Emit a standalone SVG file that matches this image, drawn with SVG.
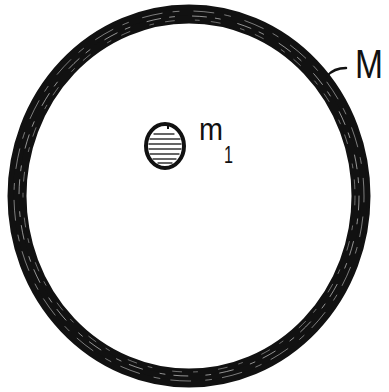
<svg xmlns="http://www.w3.org/2000/svg" width="389" height="392" viewBox="0 0 389 392">
<style>
.ink{fill:none;stroke:#111;stroke-linecap:round;stroke-linejoin:round}
.hl{fill:none;stroke:#fff;stroke-width:1;stroke-linecap:round}
.lbl{font-family:"Liberation Sans","DejaVu Sans",sans-serif;fill:#111}
</style>
<rect width="389" height="392" fill="#fff"/>
<g id="ring-M">
<ellipse class="ink" cx="189" cy="196" rx="172" ry="182" stroke-width="19"/>
<ellipse class="ink" cx="190" cy="195" rx="174" ry="183" stroke-width="6" transform="rotate(-3 190 195)"/>
<ellipse class="hl" cx="189" cy="196" rx="170" ry="180" stroke-dasharray="14 9 5 18" opacity="0.55"/>
<ellipse class="hl" cx="189" cy="196" rx="175" ry="185" stroke-dasharray="6 15 20 11" opacity="0.45"/>
<ellipse class="hl" cx="189" cy="196" rx="166" ry="176" stroke-dasharray="9 21 4 12" opacity="0.4"/>
</g>
<g id="body-m1">
<ellipse cx="165" cy="146" rx="19" ry="22" fill="#fff" stroke="#111" stroke-width="4"/>
<g stroke="#333" stroke-width="1.3" stroke-linecap="round">
<line x1="154" y1="134" x2="174" y2="134"/>
<line x1="150" y1="139" x2="180" y2="139"/>
<line x1="149" y1="144" x2="181" y2="144"/>
<line x1="149" y1="149" x2="181" y2="149"/>
<line x1="150" y1="154" x2="179" y2="154"/>
<line x1="153" y1="159" x2="176" y2="159"/>
<line x1="158" y1="163" x2="172" y2="163"/>
</g>
<line x1="168" y1="123" x2="168" y2="129" stroke="#111" stroke-width="2"/>
</g>
<g id="connectors">
<path class="ink" d="M327 76 Q334 68 346 68" stroke-width="2.5"/>
</g>
<g id="labels">
<text class="lbl" x="199" y="140" font-size="32" textLength="24" lengthAdjust="spacingAndGlyphs">m</text>
<text class="lbl" x="224" y="163" font-size="23" textLength="9" lengthAdjust="spacingAndGlyphs">1</text>
<text class="lbl" x="355" y="78" font-size="40" textLength="28" lengthAdjust="spacingAndGlyphs">M</text>
</g>
</svg>
